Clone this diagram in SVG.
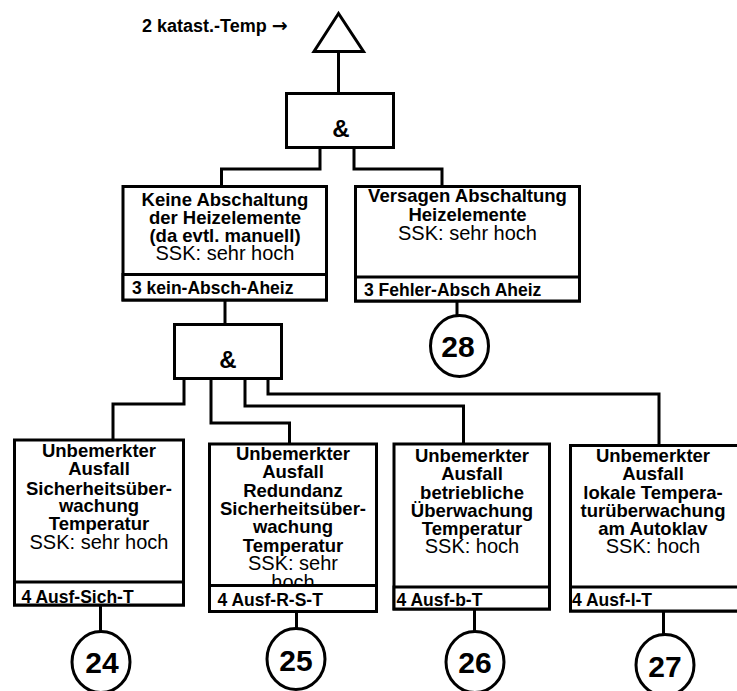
<svg xmlns="http://www.w3.org/2000/svg" width="737" height="691" viewBox="0 0 737 691">
<style>
.ln{fill:none;stroke:#000;stroke-width:3}
.bx{fill:#fff;stroke:#000;stroke-width:3}
.b{font-family:"Liberation Sans",Arial,sans-serif;font-weight:bold;font-size:18.5px;fill:#000;text-anchor:middle}
.r{font-family:"Liberation Sans",Arial,sans-serif;font-size:20px;fill:#000;text-anchor:middle}
.lb{font-family:"Liberation Sans",Arial,sans-serif;font-weight:bold;font-size:17.5px;fill:#000}
.amp{font-family:"Liberation Sans",Arial,sans-serif;font-weight:bold;font-size:24px;fill:#000;text-anchor:middle}
.num{font-family:"Liberation Sans",Arial,sans-serif;font-weight:bold;font-size:30px;fill:#000;text-anchor:middle}
</style>
<rect width="737" height="691" fill="#fff"/>
<g id="connectors">
<path class="ln" d="M338.5,51.5V94"/>
<path class="ln" d="M320,147.5V169H221.5V187"/>
<path class="ln" d="M354,147.5V169H442V187"/>
<path class="ln" d="M225,300V324.5"/>
<path class="ln" d="M457,301V316"/>
<path class="ln" d="M184,378.5V404H113V440"/>
<path class="ln" d="M211,378.5V423H289.5V444"/>
<path class="ln" d="M245,378.5V406H463.5V444"/>
<path class="ln" d="M268,378.5V394H659V445"/>
<path class="ln" d="M100.5,605V632"/>
<path class="ln" d="M296.5,611.5V628"/>
<path class="ln" d="M474.5,609V632"/>
<path class="ln" d="M663.5,611V635"/>
</g>
<g id="top-event">
<polygon class="bx" points="338.5,13.5 314,51.5 363.5,51.5"/>
<text x="142" y="32" class="lb" style="font-size:18px">2 katast.-Temp <tspan style="font-family:'DejaVu Sans',sans-serif;font-size:19px">→</tspan></text>
</g>
<g id="gate-top">
<rect class="bx" x="286.5" y="93.5" width="107" height="54"/>
<text x="341" y="137" class="amp">&amp;</text>
</g>
<g id="node-kein-absch">
<rect class="bx" x="123" y="186.5" width="203.5" height="113.5"/>
<text class="b"><tspan x="225" y="205.5">Keine Abschaltung</tspan><tspan x="225" y="224">der Heizelemente</tspan><tspan x="225" y="242">(da evtl. manuell)</tspan></text>
<text x="225" y="260" class="r">SSK: sehr hoch</text>
<rect class="bx" x="123" y="274.5" width="203.5" height="25.5"/>
<text x="132" y="294" class="lb">3 kein-Absch-Aheiz</text>
</g>
<g id="node-fehler-absch">
<rect class="bx" x="355.5" y="186.5" width="224" height="114.5"/>
<text class="b"><tspan x="467.5" y="202">Versagen Abschaltung</tspan><tspan x="467.5" y="221">Heizelemente</tspan></text>
<text x="467.5" y="240" class="r">SSK: sehr hoch</text>
<rect class="bx" x="355.5" y="277" width="224" height="24"/>
<text x="364" y="295.5" class="lb">3 Fehler-Absch Aheiz</text>
</g>
<g id="circle-28">
<ellipse class="bx" cx="459.5" cy="346" rx="29" ry="30.5"/>
<text x="458" y="357" class="num">28</text>
</g>
<g id="gate-lower">
<rect class="bx" x="174.5" y="324.5" width="107" height="54"/>
<text x="228" y="368" class="amp">&amp;</text>
</g>
<g id="node-ausf-sich">
<rect class="bx" x="14.5" y="440" width="169" height="165"/>
<text class="b"><tspan x="99" y="456.5">Unbemerkter</tspan><tspan x="99" y="475">Ausfall</tspan><tspan x="99" y="494.5">Sicherheitsüber-</tspan><tspan x="99" y="512">wachung</tspan><tspan x="99" y="530">Temperatur</tspan></text>
<text x="99" y="548.5" class="r">SSK: sehr hoch</text>
<rect class="bx" x="14.5" y="582" width="169" height="23"/>
<text x="21.5" y="602.5" class="lb">4 Ausf-Sich-T</text>
</g>
<g id="node-ausf-r-s">
<rect class="bx" x="209.5" y="444" width="167" height="167.5"/>
<text class="b"><tspan x="293" y="460">Unbemerkter</tspan><tspan x="293" y="478">Ausfall</tspan><tspan x="293" y="496.5">Redundanz</tspan><tspan x="293" y="515">Sicherheitsüber-</tspan><tspan x="293" y="533">wachung</tspan><tspan x="293" y="551.5">Temperatur</tspan></text>
<text class="r"><tspan x="293" y="570">SSK: sehr</tspan><tspan x="293" y="588.5">hoch</tspan></text>
<rect class="bx" x="209.5" y="585.5" width="167" height="26"/>
<text x="217.5" y="606" class="lb">4 Ausf-R-S-T</text>
</g>
<g id="node-ausf-b">
<rect class="bx" x="394" y="444" width="155.5" height="165"/>
<text class="b"><tspan x="472" y="461.5">Unbemerkter</tspan><tspan x="472" y="480">Ausfall</tspan><tspan x="472" y="498.5">betriebliche</tspan><tspan x="472" y="516.5">Überwachung</tspan><tspan x="472" y="534.5">Temperatur</tspan></text>
<text x="472" y="553" class="r">SSK: hoch</text>
<rect class="bx" x="394" y="587" width="155.5" height="22"/>
<text x="396.5" y="606" class="lb">4 Ausf-b-T</text>
</g>
<g id="node-ausf-l">
<rect class="bx" x="570.5" y="445.5" width="170" height="165.5"/>
<text class="b"><tspan x="653" y="461.5">Unbemerkter</tspan><tspan x="653" y="480">Ausfall</tspan><tspan x="653" y="498.5">lokale Tempera-</tspan><tspan x="653" y="516.5">turüberwachung</tspan><tspan x="653" y="534.5">am Autoklav</tspan></text>
<text x="653" y="553" class="r">SSK: hoch</text>
<rect class="bx" x="570.5" y="587" width="170" height="24"/>
<text x="572" y="606" class="lb">4 Ausf-l-T</text>
</g>
<g id="circle-24">
<ellipse class="bx" cx="101" cy="662" rx="29" ry="30.5"/>
<text x="102" y="673" class="num">24</text>
</g>
<g id="circle-25">
<ellipse class="bx" cx="296" cy="659" rx="29" ry="30.5"/>
<text x="296" y="671" class="num">25</text>
</g>
<g id="circle-26">
<ellipse class="bx" cx="475" cy="662" rx="29" ry="30.5"/>
<text x="475" y="673" class="num">26</text>
</g>
<g id="circle-27">
<ellipse class="bx" cx="665" cy="665" rx="29" ry="30.5"/>
<text x="665" y="677" class="num">27</text>
</g>
</svg>
